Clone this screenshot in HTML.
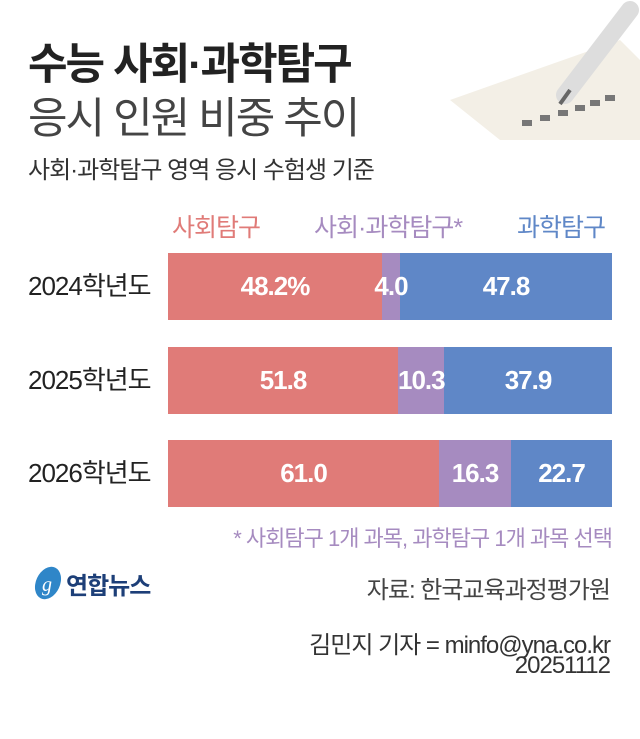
<!DOCTYPE html>
<html><head><meta charset="utf-8"><style>
body{margin:0;width:640px;height:739px;background:#fff;position:relative;overflow:hidden;font-family:"Liberation Sans","Noto Sans CJK KR",sans-serif;}
.a{position:absolute;white-space:nowrap;}
.bar{position:absolute;height:67px;}
.v{position:absolute;color:#fff;font-weight:bold;font-size:26px;line-height:67px;text-align:center;letter-spacing:-1px;}
.lab{position:absolute;left:28px;font-size:26px;color:#222;line-height:67px;letter-spacing:-1px;}
</style></head><body>
<svg class="a" style="left:390px;top:0" width="250" height="140">
<polygon points="60,100 230,40 250,60 250,140 110,140" fill="#f3efe6"/>
<g fill="#777"><rect x="150" y="115" width="10" height="6"/><rect x="168" y="110" width="10" height="6"/><rect x="185" y="105" width="10" height="6"/><rect x="200" y="100" width="10" height="6"/><rect x="215" y="95" width="10" height="6"/><rect x="132" y="120" width="10" height="6"/></g>
<line x1="240" y1="10" x2="175" y2="95" stroke="#ddd" stroke-width="18" stroke-linecap="round"/>
<line x1="180" y1="90" x2="170" y2="104" stroke="#666" stroke-width="4"/>
</svg>
<div class="a" style="left:28px;top:30px;font-size:43px;font-weight:bold;color:#222;letter-spacing:-2px">수능 사회·과학탐구</div>
<div class="a" style="left:28px;top:84px;font-size:43px;color:#444;letter-spacing:-2px">응시 인원 비중 추이</div>
<div class="a" style="left:28px;top:150px;font-size:24px;color:#333;letter-spacing:-1px">사회·과학탐구 영역 응시 수험생 기준</div>
<div class="a" style="left:172px;top:208px;font-size:25px;color:#e07b78;letter-spacing:-1px">사회탐구</div>
<div class="a" style="left:314px;top:208px;font-size:25px;color:#a68bc0;letter-spacing:-1px">사회·과학탐구*</div>
<div class="a" style="left:517px;top:208px;font-size:25px;color:#5f87c7;letter-spacing:-1px">과학탐구</div>

<div class="lab" style="top:253px">2024학년도</div>
<div class="bar" style="top:253px;left:168px;width:214px;background:#e07b78"></div>
<div class="bar" style="top:253px;left:382px;width:18px;background:#a68bc0"></div>
<div class="bar" style="top:253px;left:400px;width:212px;background:#5f87c7"></div>
<div class="v" style="top:253px;left:168px;width:214px">48.2%</div>
<div class="v" style="top:253px;left:361px;width:60px">4.0</div>
<div class="v" style="top:253px;left:400px;width:212px">47.8</div>

<div class="lab" style="top:347px">2025학년도</div>
<div class="bar" style="top:347px;left:168px;width:230px;background:#e07b78"></div>
<div class="bar" style="top:347px;left:398px;width:46px;background:#a68bc0"></div>
<div class="bar" style="top:347px;left:444px;width:168px;background:#5f87c7"></div>
<div class="v" style="top:347px;left:168px;width:230px">51.8</div>
<div class="v" style="top:347px;left:398px;width:46px">10.3</div>
<div class="v" style="top:347px;left:444px;width:168px">37.9</div>

<div class="lab" style="top:440px">2026학년도</div>
<div class="bar" style="top:440px;left:168px;width:271px;background:#e07b78"></div>
<div class="bar" style="top:440px;left:439px;width:72px;background:#a68bc0"></div>
<div class="bar" style="top:440px;left:511px;width:101px;background:#5f87c7"></div>
<div class="v" style="top:440px;left:168px;width:271px">61.0</div>
<div class="v" style="top:440px;left:439px;width:72px">16.3</div>
<div class="v" style="top:440px;left:511px;width:101px">22.7</div>

<div class="a" style="right:28px;top:521px;font-size:22px;color:#a68bc0;letter-spacing:-1px">* 사회탐구 1개 과목, 과학탐구 1개 과목 선택</div>
<svg class="a" style="left:30px;top:565px" width="36" height="36"><ellipse cx="18" cy="18" rx="12" ry="17" transform="rotate(25 18 18)" fill="#2f86c8"/><text x="12" y="26" font-size="20" font-style="italic" fill="#fff" font-family="Liberation Serif">g</text></svg>
<div class="a" style="left:66px;top:566px;font-size:24px;font-weight:bold;color:#1d3f78;letter-spacing:-1px">연합뉴스</div>
<div class="a" style="right:30px;top:570px;font-size:24px;color:#444;letter-spacing:-1px">자료: 한국교육과정평가원</div>
<div class="a" style="right:30px;top:625px;font-size:24px;color:#333;letter-spacing:-1px">김민지 기자 = minfo@yna.co.kr</div>
<div class="a" style="right:30px;top:652px;font-size:24px;color:#333;letter-spacing:-1px">20251112</div>
</body></html>
